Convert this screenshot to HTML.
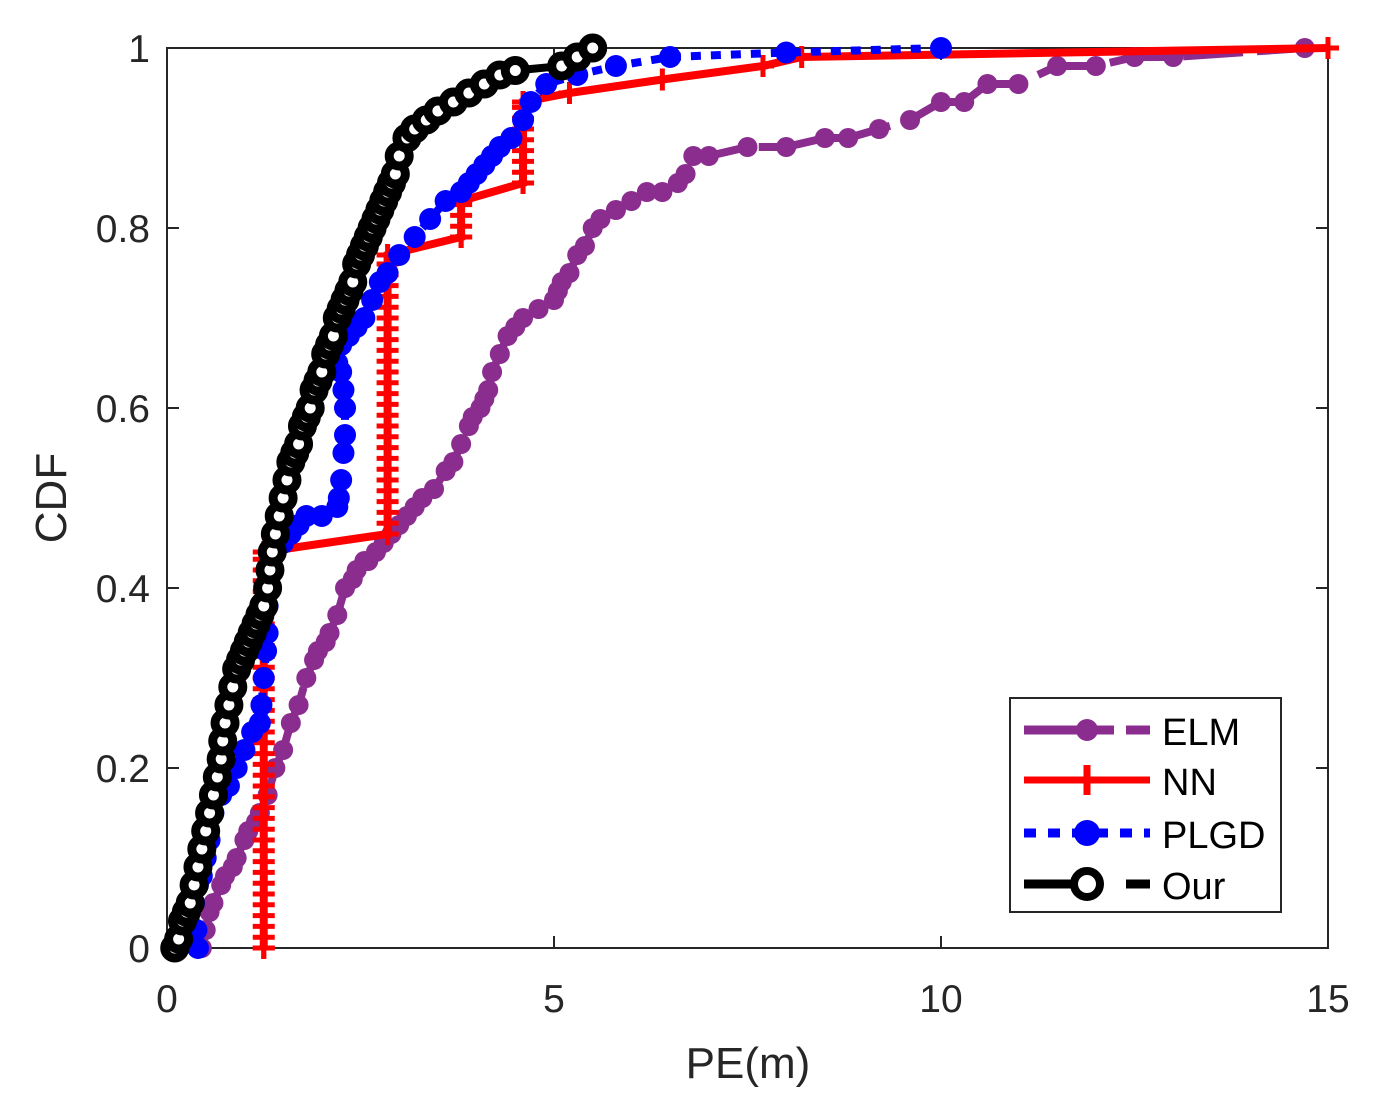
<!DOCTYPE html>
<html><head><meta charset="utf-8"><style>
html,body{margin:0;padding:0;background:#fff;}
svg{display:block;font-family:"Liberation Sans",sans-serif;}
</style></head><body>
<svg id="chart" width="1384" height="1116" viewBox="0 0 1384 1116">
<rect x="167" y="48" width="1161" height="900" fill="#fff" stroke="#262626" stroke-width="2"/>
<g id="ticks"></g>
<g id="series"></g>
<text x="748" y="1078" font-size="44" text-anchor="middle" fill="#262626">PE(m)</text>
<text x="66" y="498" font-size="44" text-anchor="middle" fill="#262626" transform="rotate(-90 66 498)">CDF</text>
<g>
<rect x="1010" y="698" width="271" height="214" fill="#fff" stroke="#262626" stroke-width="2"/>
<g>
<line x1="1024" y1="730" x2="1150" y2="730" stroke="#8b2c8f" stroke-width="9" stroke-dasharray="90,12,30,0"/>
<circle cx="1087" cy="730" r="11" fill="#8b2c8f"/>
<text x="1162" y="745" font-size="38" fill="#000">ELM</text></g>
<g>
<line x1="1024" y1="780" x2="1150" y2="780" stroke="#ff0000" stroke-width="7"/>
<line x1="1087" y1="765" x2="1087" y2="795" stroke="#ff0000" stroke-width="7"/>
<text x="1162" y="795" font-size="38" fill="#000">NN</text></g>
<g>
<line x1="1024" y1="833" x2="1150" y2="833" stroke="#0000ff" stroke-width="9" stroke-dasharray="12,12"/>
<circle cx="1087" cy="833" r="13" fill="#0000ff"/>
<text x="1162" y="848" font-size="38" fill="#000">PLGD</text></g>
<g>
<line x1="1024" y1="884" x2="1080" y2="884" stroke="#000" stroke-width="9"/>
<line x1="1126" y1="884" x2="1150" y2="884" stroke="#000" stroke-width="9"/>
<circle cx="1087" cy="884" r="13" fill="#fff" stroke="#000" stroke-width="8"/>
<text x="1162" y="899" font-size="38" fill="#000">Our</text></g>
</g>
</svg>
<script>
const xTicks=[0,5,10,15];
const yTicks=[0,0.2,0.4,0.6,0.8,1];
const yTickLabels=["0","0.2","0.4","0.6","0.8","1"];
const elmX=[0.45,0.5,0.55,0.6,0.7,0.75,0.85,0.9,1.0,1.05,1.15,1.2,1.3,1.4,1.5,1.6,1.7,1.8,1.9,1.95,2.05,2.1,2.2,2.3,2.4,2.45,2.55,2.6,2.7,2.8,2.9,3.0,3.1,3.2,3.3,3.45,3.6,3.7,3.8,3.9,3.95,4.05,4.1,4.15,4.2,4.3,4.4,4.5,4.6,4.8,5.0,5.05,5.1,5.2,5.3,5.4,5.5,5.6,5.8,6.0,6.2,6.4,6.6,6.7,6.8,7.0,7.5,8.0,8.5,8.8,9.2,9.6,10.0,10.3,10.6,11.0,11.5,12.0,12.5,13.0,14.7];
const elmY=[0,0.02,0.04,0.05,0.07,0.08,0.09,0.1,0.12,0.13,0.14,0.15,0.17,0.2,0.22,0.25,0.27,0.3,0.32,0.33,0.34,0.35,0.37,0.4,0.41,0.42,0.43,0.43,0.44,0.45,0.46,0.47,0.48,0.49,0.5,0.51,0.53,0.54,0.56,0.58,0.59,0.6,0.61,0.62,0.64,0.66,0.68,0.69,0.7,0.71,0.72,0.73,0.74,0.75,0.77,0.78,0.8,0.81,0.82,0.83,0.84,0.84,0.85,0.86,0.88,0.88,0.89,0.89,0.9,0.9,0.91,0.92,0.94,0.94,0.96,0.96,0.98,0.98,0.99,0.99,1.0];
const nnX=[1.25,1.25,2.85,2.85,3.8,3.8,4.6,4.6,5.2,6.4,7.7,8.2,15];
const nnY=[0,0.44,0.46,0.77,0.79,0.83,0.85,0.94,0.95,0.965,0.98,0.99,1.0];
const plgdX=[0.4,0.38,0.35,0.4,0.45,0.5,0.55,0.6,0.7,0.8,0.9,1.0,1.1,1.2,1.22,1.25,1.28,1.3,1.3,1.32,1.35,1.4,1.5,1.6,1.7,1.8,2.0,2.2,2.22,2.25,2.28,2.3,2.3,2.28,2.25,2.2,2.25,2.35,2.45,2.55,2.65,2.75,2.85,3.0,3.2,3.4,3.6,3.8,3.9,4.0,4.1,4.2,4.3,4.45,4.6,4.7,4.9,5.3,5.8,6.5,8.0,10.0];
const plgdY=[0,0.02,0.05,0.07,0.08,0.1,0.12,0.15,0.17,0.18,0.2,0.22,0.24,0.25,0.27,0.3,0.33,0.35,0.38,0.4,0.42,0.44,0.45,0.46,0.47,0.48,0.48,0.49,0.5,0.52,0.55,0.57,0.6,0.62,0.64,0.65,0.67,0.68,0.69,0.7,0.72,0.74,0.75,0.77,0.79,0.81,0.83,0.84,0.85,0.86,0.87,0.88,0.89,0.9,0.92,0.94,0.96,0.97,0.98,0.99,0.995,1.0];
const ourX=[0.1,0.15,0.2,0.25,0.3,0.35,0.4,0.45,0.5,0.55,0.6,0.65,0.7,0.72,0.75,0.8,0.85,0.9,0.95,1.0,1.05,1.1,1.15,1.2,1.25,1.3,1.33,1.36,1.4,1.45,1.5,1.55,1.6,1.65,1.7,1.75,1.8,1.85,1.9,1.95,2.0,2.05,2.1,2.15,2.2,2.25,2.3,2.35,2.4,2.45,2.5,2.55,2.6,2.65,2.7,2.75,2.8,2.85,2.9,2.95,3.0,3.1,3.2,3.35,3.5,3.7,3.9,4.1,4.3,4.5,5.1,5.3,5.5];
const ourY=[0,0.01,0.03,0.04,0.05,0.07,0.09,0.11,0.13,0.15,0.17,0.19,0.21,0.23,0.25,0.27,0.29,0.31,0.32,0.33,0.34,0.35,0.36,0.37,0.38,0.4,0.42,0.44,0.46,0.48,0.5,0.52,0.54,0.55,0.56,0.58,0.59,0.6,0.62,0.63,0.64,0.66,0.67,0.68,0.7,0.71,0.72,0.73,0.74,0.76,0.77,0.78,0.79,0.8,0.81,0.82,0.83,0.84,0.85,0.86,0.88,0.9,0.91,0.92,0.93,0.94,0.95,0.96,0.97,0.975,0.98,0.99,1.0];
const NS='http://www.w3.org/2000/svg';
const sx=v=>167+v*(1161/15);
const sy=v=>948-v*900;
const tg=document.getElementById('ticks');
function mk(tag,attrs,parent){const e=document.createElementNS(NS,tag);for(const k in attrs)e.setAttribute(k,attrs[k]);parent.appendChild(e);return e;}
xTicks.forEach(t=>{
  mk('line',{x1:sx(t),x2:sx(t),y1:948,y2:936,stroke:'#262626','stroke-width':2},tg);
  mk('line',{x1:sx(t),x2:sx(t),y1:48,y2:60,stroke:'#262626','stroke-width':2},tg);
  const tx=mk('text',{x:sx(t),y:1012,'font-size':39,'text-anchor':'middle',fill:'#262626'},tg);
  tx.textContent=t;
  
  
});
yTicks.forEach((t,i)=>{
  mk('line',{x1:167,x2:179,y1:sy(t),y2:sy(t),stroke:'#262626','stroke-width':2},tg);
  mk('line',{x1:1328,x2:1316,y1:sy(t),y2:sy(t),stroke:'#262626','stroke-width':2},tg);
  const tx=mk('text',{x:150,y:sy(t)+14,'font-size':39,'text-anchor':'end',fill:'#262626'},tg);
  tx.textContent=yTickLabels[i];
  
  
});
const sg=document.getElementById('series');
function series(name,xs,ys,color,dash,marker){
  const g=mk('g',{},sg);
  
  
  const pts=xs.map((x,i)=>sx(x)+','+sy(ys[i])).join(' ');
  mk('polyline',{points:pts,fill:'none',stroke:color,'stroke-width':8,'stroke-dasharray':dash},g);
  xs.forEach((x,i)=>{
    const cx=sx(x),cy=sy(ys[i]);
    if(marker==='plus'){
      const steps=[];
      if(i>0&&xs[i-1]===x){for(let y=ys[i-1];y<=ys[i];y+=0.012)steps.push(y);}
      steps.push(ys[i]);
      steps.forEach(y=>{
        mk('line',{x1:cx-11,x2:cx+11,y1:sy(y),y2:sy(y),stroke:color,'stroke-width':5},g);
        mk('line',{x1:cx,x2:cx,y1:sy(y)-11,y2:sy(y)+11,stroke:color,'stroke-width':5},g);
      });
    } else if(marker==='dot'){
      mk('circle',{cx:cx,cy:cy,r:11,fill:color},g);
    } else if(marker==='ring'){
      mk('circle',{cx:cx,cy:cy,r:10,fill:'#fff',stroke:color,'stroke-width':9},g);
    } else {
      mk('circle',{cx:cx,cy:cy,r:10,fill:color},g);
    }
  });
}
series('series-elm',elmX,elmY,'#8b2c8f','60,14','diamond');
series('series-nn',nnX,nnY,'#ff0000','none','plus');
series('series-plgd',plgdX,plgdY,'#0000ff','10,10','dot');
series('series-our',ourX,ourY,'#000000','40,14','ring');
</script>
</body></html>
